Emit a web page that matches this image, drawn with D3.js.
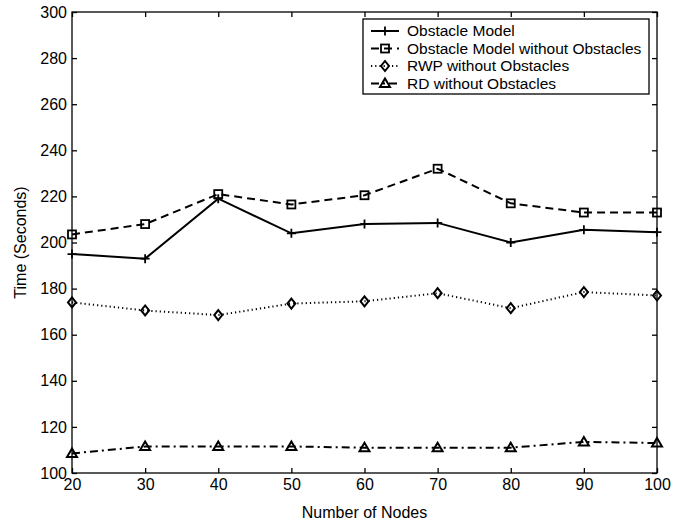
<!DOCTYPE html>
<html>
<head>
<meta charset="utf-8">
<script src="https://cdn.jsdelivr.net/npm/d3@7"></script>
<style>
  body { margin: 0; background: #fff; }
  text { font-family: "Liberation Sans", Arial, sans-serif; fill: #000; }
</style>
</head>
<body>
<div id="chart"></div>
<script>
// Data
const nodes = [20, 30, 40, 50, 60, 70, 80, 90, 100];
const obstacleModel = [195, 193, 219, 204, 208, 208.5, 200, 205.5, 204.5];
const obstacleNoObs = [203.5, 208, 221, 216.5, 220.5, 232, 217, 213, 213];
const rwpNoObs = [174, 170.5, 168.5, 173.5, 174.5, 178, 171.5, 178.5, 177];
const rdNoObs = [108.5, 111.5, 111.5, 111.5, 111, 111, 111, 113.5, 113];
const yTicks = [100, 120, 140, 160, 180, 200, 220, 240, 260, 280, 300];

const series = [
  { name: "Obstacle Model", values: obstacleModel, dash: null, marker: "plus" },
  { name: "Obstacle Model without Obstacles", values: obstacleNoObs, dash: "8,5", marker: "square" },
  { name: "RWP without Obstacles", values: rwpNoObs, dash: "1.2,3", marker: "diamond" },
  { name: "RD without Obstacles", values: rdNoObs, dash: "8,4,2,4", marker: "triangle" },
];

const width = 684, height = 524;
const margin = { top: 12, right: 27, bottom: 51, left: 72 };
const w = width - margin.left - margin.right;
const h = height - margin.top - margin.bottom;
const fontSize = "16px";

const svg = d3.select("#chart").append("svg")
  .attr("width", width).attr("height", height);
const g = svg.append("g")
  .attr("transform", `translate(${margin.left},${margin.top})`);

const x = d3.scaleLinear().domain([20, 100]).range([0, w]);
const y = d3.scaleLinear().domain([100, 300]).range([h, 0]);

// frame
g.append("rect").attr("width", w).attr("height", h)
  .attr("fill", "none").attr("stroke", "#000").attr("stroke-width", 1.3);

// axes with inward ticks
const tickLen = 5;
const xAxis = g.append("g").attr("transform", `translate(0,${h})`)
  .call(d3.axisBottom(x).tickValues(nodes).tickSize(-tickLen).tickPadding(9));
const xTop = g.append("g")
  .call(d3.axisTop(x).tickValues(nodes).tickSize(-tickLen).tickFormat(""));
const yAxis = g.append("g")
  .call(d3.axisLeft(y).tickValues(yTicks).tickSize(-tickLen).tickPadding(5));
const yRight = g.append("g").attr("transform", `translate(${w},0)`)
  .call(d3.axisRight(y).tickValues(yTicks).tickSize(-tickLen).tickFormat(""));

[xAxis, xTop, yAxis, yRight].forEach(a => {
  a.select(".domain").remove();
  a.selectAll(".tick line").attr("stroke", "#000").attr("stroke-width", 1.3);
  a.selectAll("text").style("font-size", fontSize)
    .style("font-family", "'Liberation Sans', Arial, sans-serif");
});
xAxis.selectAll("text").attr("dy", "0.5em");

// axis labels
svg.append("text")
  .attr("x", margin.left + w / 2).attr("y", 518)
  .attr("text-anchor", "middle").style("font-size", fontSize)
  .text("Number of Nodes");
svg.append("text")
  .attr("transform", `translate(26,${margin.top + h / 2}) rotate(-90)`)
  .attr("text-anchor", "middle").style("font-size", fontSize)
  .text("Time (Seconds)");

function drawMarker(sel, type) {
  if (type === "plus") {
    sel.append("path").attr("d", "M-4.5,0H4.5M0,-4.5V4.5")
      .attr("stroke", "#000").attr("stroke-width", 1.8).attr("fill", "none");
  } else if (type === "square") {
    sel.append("rect").attr("x", -4).attr("y", -4).attr("width", 8).attr("height", 8)
      .attr("stroke", "#000").attr("stroke-width", 1.8).attr("fill", "none");
  } else if (type === "diamond") {
    sel.append("path").attr("d", "M0,-5L4,0L0,5L-4,0Z")
      .attr("stroke", "#000").attr("stroke-width", 2).attr("fill", "none");
  } else if (type === "triangle") {
    sel.append("path").attr("d", "M0,-5L5,3.5H-5Z")
      .attr("stroke", "#000").attr("stroke-width", 2).attr("fill", "none");
  }
}

const line = d3.line()
  .x((d, i) => x(nodes[i]))
  .y(d => y(d));

series.forEach(s => {
  g.append("path")
    .datum(s.values)
    .attr("d", line)
    .attr("fill", "none")
    .attr("stroke", "#000")
    .attr("stroke-width", 2)
    .attr("stroke-dasharray", s.dash);

  g.selectAll(null)
    .data(s.values)
    .join("g")
    .attr("transform", (d, i) => `translate(${x(nodes[i])},${y(d)})`)
    .each(function () { drawMarker(d3.select(this), s.marker); });
});

// legend
const legend = svg.append("g").attr("transform", "translate(363,19)");
legend.append("rect").attr("width", 286).attr("height", 75)
  .attr("fill", "#fff").attr("stroke", "#000").attr("stroke-width", 1.3);
series.forEach((s, i) => {
  const row = legend.append("g").attr("transform", `translate(0,${12 + i * 17.5})`);
  row.append("line").attr("x1", 8).attr("x2", 36).attr("y1", 0).attr("y2", 0)
    .attr("stroke", "#000").attr("stroke-width", 2).attr("stroke-dasharray", s.dash);
  const m = row.append("g").attr("transform", "translate(22,0)");
  drawMarker(m, s.marker);
  row.append("text").attr("x", 44).attr("y", 0).attr("dy", "0.35em")
    .style("font-size", "15.5px").text(s.name);
});
</script>
</body>
</html>
